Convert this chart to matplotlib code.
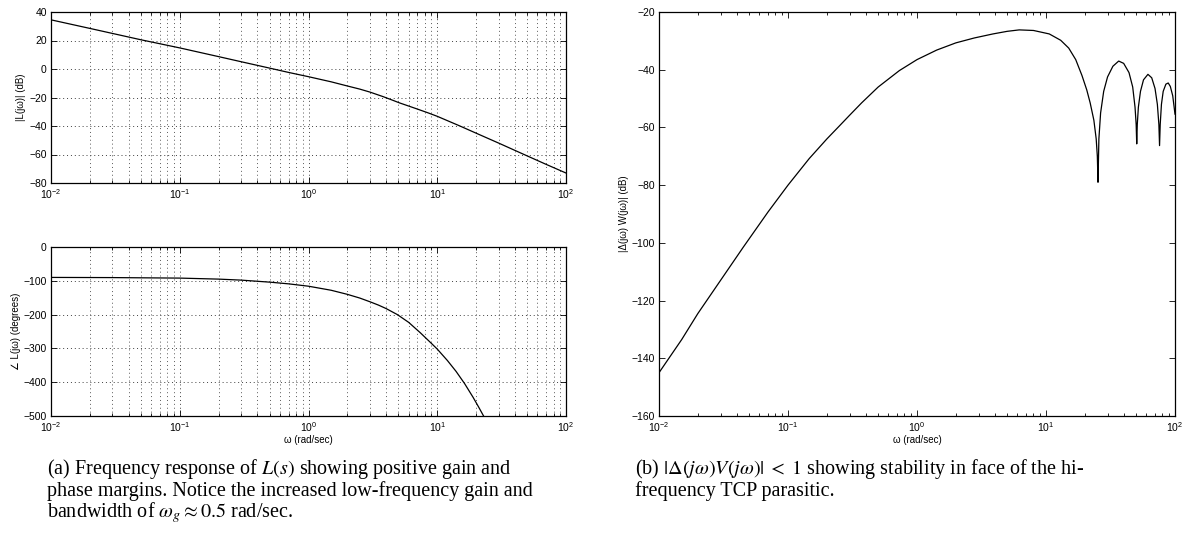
import matplotlib
matplotlib.use('Agg')
import matplotlib.pyplot as plt

plt.rcParams['font.family'] = ['Liberation Sans', 'DejaVu Sans']
plt.rcParams['mathtext.fontset'] = 'stix'

# |L(jw)| in dB
mag_w = [0.01, 0.02, 0.05, 0.1, 0.2, 0.3, 0.5, 0.7, 1.0, 1.5, 2.0, 2.5, 3.0,
         3.8, 4.5, 5.1, 6.0, 7.0, 8.5, 10.0, 15.0, 20.0, 30.0, 50.0, 70.0, 100.0]
mag_db = [34.5, 28.5, 20.5, 14.8, 8.7, 5.1, 0.6, -2.4, -5.4, -9.0, -11.9, -14.1, -16.2,
          -19.4, -21.9, -23.8, -26.0, -28.1, -30.8, -33.2, -40.0, -45.0, -52.0, -61.0,
          -66.9, -73.0]

# phase of L(jw) in degrees, bottom-left panel
ph_w = [0.01, 0.03, 0.1, 0.2, 0.3, 0.5, 0.7, 1.0, 1.5, 2.0, 2.5, 3.0, 3.5, 4.0,
        4.9, 6.0, 7.4, 9.0, 10.0, 12.0, 14.0, 16.3, 19.0, 21.0, 22.9]
ph_deg = [-90, -90.5, -92, -95, -98, -104, -109, -116, -128, -140, -151, -162, -172,
          -182, -200, -223, -254, -285, -302, -336, -368, -404, -445, -474, -500]

# |Delta(jw) W(jw)| in dB, right panel
dw_w = [0.01, 0.015, 0.02, 0.03, 0.045, 0.07, 0.1, 0.146, 0.2, 0.25, 0.3, 0.372,
        0.5, 0.73, 1.0, 1.42, 2.0, 2.78, 3.88, 5.0, 6.2, 8.0, 10.6, 13.0, 15.0,
        17.0, 19.0, 20.7, 22.0, 23.5, 24.5, 25.0, 25.3, 25.7, 26.5, 28.0, 30.0,
        33.0, 36.6, 40.0, 44.0, 47.0, 49.0, 50.0, 50.5, 51.0, 52.0, 54.0, 57.0,
        61.7, 66.0, 70.0, 73.0, 75.0, 75.9, 76.8, 78.5, 81.0, 85.0, 88.6, 92.0,
        96.0, 100.0]
dw_db = [-145, -133.5, -124.5, -113, -101.5, -89.3, -80, -70.8, -64, -59.5, -55.8, -51.5,
         -46, -40.3, -36.5, -33.2, -30.7, -29, -27.6, -26.7, -26.2, -26.4, -27.6, -29.8, -32.5,
         -36.5, -42, -47, -51.5, -57.5, -64, -70, -79, -64, -55, -47.5, -42.5,
         -38.8, -37, -37.8, -41, -46, -53, -59, -65.7, -59, -53, -47.5, -43.5,
         -41.6, -42.8, -46.5, -52, -59, -66.3, -59, -52, -47.5, -45, -44.6, -45.8,
         -49, -55.4]

fig = plt.figure(figsize=(11.88, 5.44), dpi=100)

ax1 = fig.add_axes([51 / 1188, 1 - 183 / 544, 515 / 1188, 171 / 544])
ax2 = fig.add_axes([51 / 1188, 1 - 416 / 544, 515 / 1188, 169 / 544])
ax3 = fig.add_axes([659 / 1188, 1 - 416 / 544, 516 / 1188, 404 / 544])


def matlab_style(ax, grid=True):
    ax.set_xscale('log')
    ax.set_xlim(1e-2, 1e2)
    ax.tick_params(which='both', direction='in', top=True, right=True,
                   labelsize=7.5, width=0.6, pad=3)
    ax.tick_params(which='major', length=4)
    ax.tick_params(which='minor', length=2)
    for s in ax.spines.values():
        s.set_linewidth(0.9)
    if grid:
        ax.grid(True, which='major', axis='both', linestyle=(0, (1, 3)),
                color='0.25', linewidth=0.7)
        ax.grid(True, which='minor', axis='x', linestyle=(0, (1, 3)),
                color='0.35', linewidth=0.7)


ax1.plot(mag_w, mag_db, color='k', linewidth=0.9)
matlab_style(ax1)
ax1.set_ylim(-80, 40)
ax1.set_yticks([-80, -60, -40, -20, 0, 20, 40])
ax1.set_ylabel('|L(j\u03c9)| (dB)', fontsize=7, labelpad=2)

ax2.plot(ph_w, ph_deg, color='k', linewidth=0.9)
matlab_style(ax2)
ax2.set_ylim(-500, 0)
ax2.set_yticks([-500, -400, -300, -200, -100, 0])
ax2.set_ylabel('\u2220 L(j\u03c9) (degrees)', fontsize=7, labelpad=2)
ax2.set_xlabel('\u03c9 (rad/sec)', fontsize=7, labelpad=1)

ax3.plot(dw_w, dw_db, color='k', linewidth=0.9)
matlab_style(ax3, grid=False)
ax3.set_ylim(-160, -20)
ax3.set_yticks([-160, -140, -120, -100, -80, -60, -40, -20])
ax3.set_ylabel('|\u0394(j\u03c9) W(j\u03c9)| (dB)', fontsize=7, labelpad=2)
ax3.set_xlabel('\u03c9 (rad/sec)', fontsize=7, labelpad=1)

cap_a = ('(a) Frequency response of $L(s)$ showing positive gain and\n'
         'phase margins. Notice the increased low-frequency gain and\n'
         'bandwidth of $\\omega_g \\approx 0.5$ rad/sec.')
cap_b = ('(b) $|\\Delta(j\\omega)V(j\\omega)|\\; < \\; 1$ showing stability in face of the hi-\n'
         'frequency TCP parasitic.')
fig.text(47 / 1188, 1 - 457 / 544, cap_a, family='Liberation Serif', fontsize=14.5,
         va='top', ha='left', linespacing=0.98)
fig.text(635 / 1188, 1 - 457 / 544, cap_b, family='Liberation Serif', fontsize=14.5,
         va='top', ha='left', linespacing=0.98)

fig.savefig('out.png', dpi=100)
